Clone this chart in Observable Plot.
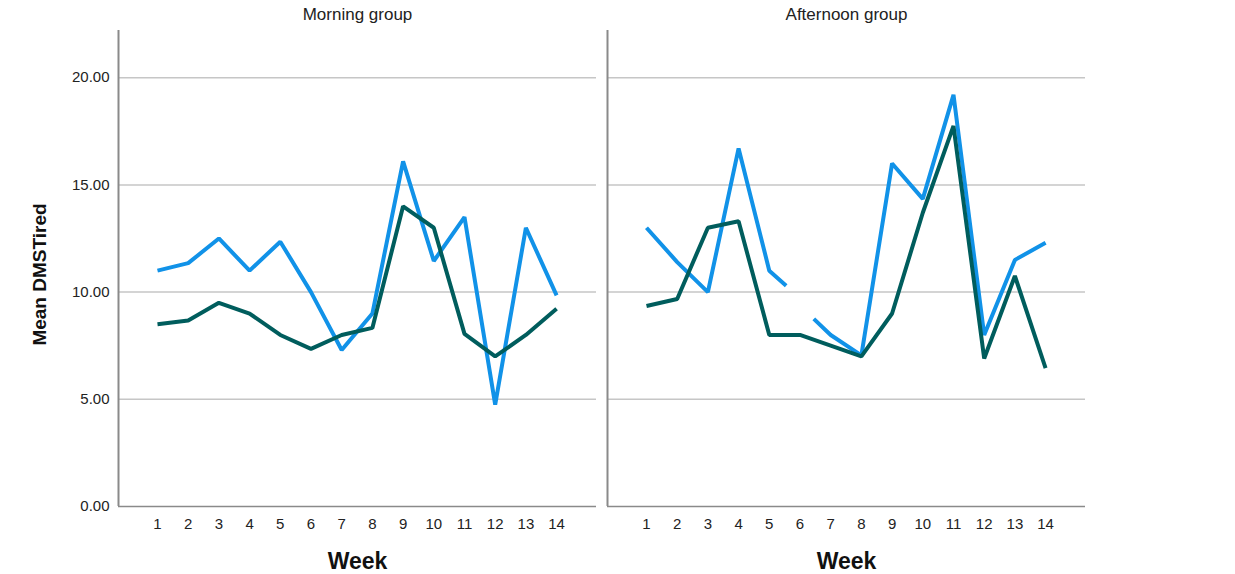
<!DOCTYPE html>
<html>
<head>
<meta charset="utf-8">
<script src="https://cdn.jsdelivr.net/npm/d3@7"></script>
<script src="https://cdn.jsdelivr.net/npm/@observablehq/plot@0.6"></script>
<style>
  html, body { margin: 0; padding: 0; background: #fff; }
  #chart { width: 1235px; height: 574px; }
</style>
</head>
<body>
<div id="chart"></div>
<script>
// ---- Data ----
const groups = ["Morning group", "Afternoon group"];
const weeks = [1, 2, 3, 4, 5, 6, 7, 8, 9, 10, 11, 12, 13, 14];
const yTicks = [0, 5, 10, 15, 20];
const gridValues = [5, 10, 15, 20];

const morningBlue = [11.0, 11.35, 12.5, 11.0, 12.35, 10.0, 7.3, 9.0, 16.1, 11.45, 13.5, 4.75, 13.0, 9.85];
const morningTeal = [8.5, 8.67, 9.5, 9.0, 8.0, 7.35, 8.0, 8.33, 14.0, 13.0, 8.05, 7.0, 8.0, 9.22];

// afternoon blue series is broken around week 6 in the reference (line stubs end/start mid-way)
const afternoonBlueWeeks = [1, 2, 3, 4, 5, 5.55, 6, 6.45, 7, 8, 9, 10, 11, 12, 13, 14];
const afternoonBlue = [13.0, 11.4, 10.0, 16.7, 11.0, 10.3, null, 8.75, 8.0, 7.05, 16.0, 14.35, 19.2, 8.0, 11.5, 12.3];
const afternoonTeal = [9.35, 9.68, 13.0, 13.3, 8.0, 8.0, 7.5, 7.0, 9.0, 13.7, 17.75, 6.9, 10.75, 6.45];

const seriesNames = ["Series A", "Series B"];
const seriesColors = ["#1192e8", "#005d5d"];

// ---- Build table ----
const rows = [];
weeks.forEach((w, i) => rows.push({group: groups[0], series: seriesNames[0], week: w, value: morningBlue[i]}));
weeks.forEach((w, i) => rows.push({group: groups[0], series: seriesNames[1], week: w, value: morningTeal[i]}));
afternoonBlueWeeks.forEach((w, i) => rows.push({group: groups[1], series: seriesNames[0], week: w, value: afternoonBlue[i] == null ? NaN : afternoonBlue[i]}));
weeks.forEach((w, i) => rows.push({group: groups[1], series: seriesNames[1], week: w, value: afternoonTeal[i]}));

const xDomain = [-0.27, 15.3];

const chart = Plot.plot({
  width: 1235,
  height: 574,
  marginLeft: 118,
  marginRight: 150,
  marginTop: 30,
  marginBottom: 68,
  style: {fontFamily: "'Liberation Sans', Arial, sans-serif", fontSize: "15px", color: "#222", background: "#fff"},
  fx: {domain: groups, paddingInner: 0.0225, paddingOuter: 0, axis: null, label: null},
  x: {domain: xDomain, ticks: weeks, tickFormat: d => String(d), tickSize: 0, tickPadding: 12, label: null},
  y: {domain: [0, 22.2], ticks: yTicks, tickFormat: d => d.toFixed(2), tickSize: 0, tickPadding: 9, label: null},
  color: {type: "ordinal", domain: seriesNames, range: seriesColors},
  marks: [
    Plot.ruleY(groups.flatMap(g => gridValues.map(v => ({g, v}))), {fx: "g", y: "v", stroke: "#c6c6c6", strokeWidth: 1.5}),
    Plot.ruleY(groups.map(g => ({g, v: 0})), {fx: "g", y: "v", stroke: "#8a8a8a", strokeWidth: 1.5}),
    Plot.ruleX(groups.map(g => ({g, v: xDomain[0]})), {fx: "g", x: "v", stroke: "#8a8a8a", strokeWidth: 2}),
    Plot.line(rows, {
      fx: "group", x: "week", y: "value", z: "series", stroke: "series",
      strokeWidth: 4, strokeLinejoin: "miter", strokeLinecap: "butt", curve: "linear"
    }),
    Plot.text(groups, {fx: d => d, text: d => d, frameAnchor: "top", lineAnchor: "middle", textAnchor: "middle", dy: -16, fontSize: 17, fill: "#222"}),
    Plot.text(groups, {fx: d => d, text: () => "Week", frameAnchor: "bottom", lineAnchor: "middle", textAnchor: "middle", dy: 55, fontSize: 23, fontWeight: "bold", fill: "#111"}),
    Plot.text([groups[0]], {fx: d => d, text: () => "Mean DMSTired", frameAnchor: "left", textAnchor: "middle", lineAnchor: "middle", dx: -79, dy: 6, rotate: -90, fontSize: 19, fontWeight: "bold", fill: "#111"})
  ]
});
document.getElementById("chart").appendChild(chart);
</script>
</body>
</html>
